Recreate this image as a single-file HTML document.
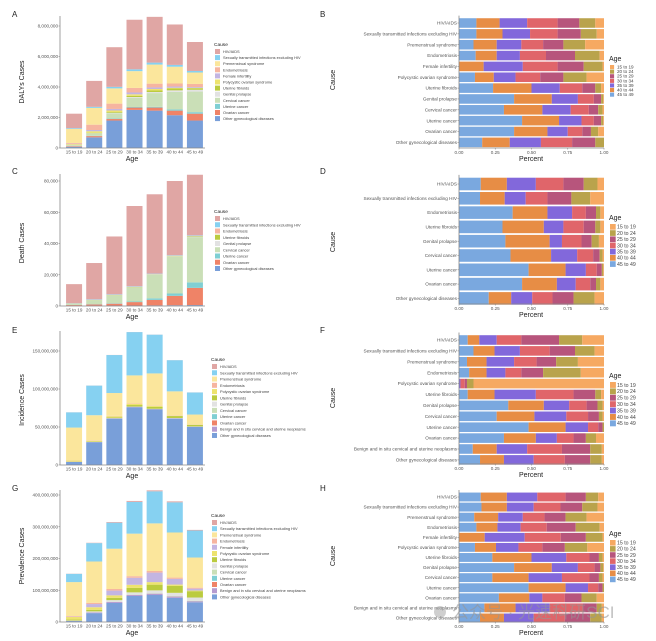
<!DOCTYPE html>
<html><head><meta charset="utf-8">
<style>
html,body{margin:0;padding:0;background:#fff;}
svg{display:block;font-family:"Liberation Sans","Noto Sans CJK SC",sans-serif;}
</style></head>
<body>
<svg id="fig" width="656" height="641" viewBox="0 0 656 641" xmlns="http://www.w3.org/2000/svg">
<rect x="0" y="0" width="656" height="641" fill="#fff"/>
<g font-size="8" fill="#222">
<text x="12" y="17">A</text>
<text x="320" y="17">B</text>
<text x="12" y="174">C</text>
<text x="320" y="174">D</text>
<text x="12" y="333">E</text>
<text x="320" y="333">F</text>
<text x="12" y="491">G</text>
<text x="320" y="491">H</text>
</g>
<g id="wm">
<circle cx="440" cy="612" r="6" fill="rgba(160,160,160,0.5)"/>
<text x="452" y="618" font-size="17" fill="rgba(150,150,150,0.6)" font-family="'Liberation Sans','Noto Sans CJK SC',sans-serif">公众号 · 光速科研SCI</text>
</g>
</svg>
<script>
const ages = ["15 to 19","20 to 24","25 to 29","30 to 34","35 to 39","40 to 44","45 to 49"];
const ageColors = {"15 to 19":"#F6A962","20 to 24":"#B9A34C","25 to 29":"#B7557C","30 to 34":"#E0656A","35 to 39":"#8268DB","40 to 44":"#E78D45","45 to 49":"#7AA8DF"};
const causeColors = {"HIV/AIDS":"#E0A6A4","Sexually transmitted infections excluding HIV":"#86D1F1","Premenstrual syndrome":"#FBE69C","Endometriosis":"#F6B5A0","Female infertility":"#C3B5E2","Polycystic ovarian syndrome":"#EDE36E","Uterine fibroids":"#BBCB3F","Genital prolapse":"#E2E2E2","Cervical cancer":"#CADFB7","Uterine cancer":"#7FCFD3","Ovarian cancer":"#EF8367","Benign and in situ cervical and uterine neoplasms":"#B59BD0","Other gynecological diseases":"#799FD9"};

// ---- Panel A (DALYs, millions), stacked bottom->top
const dalyCauses = ["Other gynecological diseases","Ovarian cancer","Uterine cancer","Cervical cancer","Genital prolapse","Uterine fibroids","Polycystic ovarian syndrome","Female infertility","Endometriosis","Premenstrual syndrome","Sexually transmitted infections excluding HIV","HIV/AIDS"];
const dalyValues = [
 [0.08,0.04,0.01,0.05,0.01,0.01,0.05,0.03,0.05,0.92,0.05,0.95],
 [0.70,0.08,0.02,0.15,0.02,0.03,0.10,0.08,0.35,1.10,0.07,1.70],
 [1.80,0.10,0.03,0.35,0.03,0.05,0.10,0.10,0.35,1.00,0.10,2.60],
 [2.50,0.15,0.04,0.60,0.05,0.08,0.10,0.12,0.30,1.10,0.12,3.25],
 [2.45,0.20,0.05,0.90,0.07,0.10,0.10,0.10,0.25,1.25,0.13,3.00],
 [2.15,0.30,0.08,1.15,0.10,0.12,0.05,0.08,0.20,1.10,0.12,2.65],
 [1.80,0.45,0.10,1.35,0.12,0.10,0.03,0.05,0.20,0.75,0.10,1.90]];
const dalyTicks = [0,2,4,6,8];
const dalyTickLabels = ["0","2,000,000","4,000,000","6,000,000","8,000,000"];

// ---- Panel C (Deaths, thousands)
const deathCauses = ["Other gynecological diseases","Ovarian cancer","Uterine cancer","Cervical cancer","Genital prolapse","Uterine fibroids","Endometriosis","Sexually transmitted infections excluding HIV","HIV/AIDS"];
const deathValues = [
 [0.1,0.5,0.1,0.8,0.0,0.05,0.05,0.2,12.2],
 [0.2,0.8,0.2,2.5,0.05,0.1,0.1,0.3,23.25],
 [0.3,1.2,0.3,5.0,0.1,0.15,0.1,0.3,37.05],
 [0.3,2.2,0.4,9.0,0.1,0.2,0.1,0.3,51.4],
 [0.4,3.5,1.0,15.0,0.2,0.2,0.1,0.3,50.8],
 [0.5,6.0,1.5,23.5,0.3,0.3,0.1,0.3,47.5],
 [0.6,11.0,3.5,29.0,0.4,0.3,0.1,0.3,38.8]];
const deathTicks = [0,20,40,60,80];
const deathTickLabels = ["0","20,000","40,000","60,000","80,000"];

// ---- Panel E (Incidence, millions)
const incCauses = ["Other gynecological diseases","Benign and in situ cervical and uterine neoplasms","Ovarian cancer","Uterine cancer","Cervical cancer","Genital prolapse","Uterine fibroids","Polycystic ovarian syndrome","Endometriosis","Premenstrual syndrome","Sexually transmitted infections excluding HIV","HIV/AIDS"];
const incValues = [
 [4,0.2,0.1,0,0.05,0,0.1,1.5,0.3,43,20,0.1],
 [30,0.3,0.1,0,0.1,0,0.5,1.0,0.5,33,39,0.1],
 [61,0.4,0.1,0,0.1,0.1,1.0,1.5,0.5,30,50,0.1],
 [76,0.5,0.1,0.1,0.1,0.1,2.0,1.5,0.5,37,57,0.1],
 [73,0.5,0.1,0.1,0.1,0.2,2.5,1.5,0.5,42,51,0.1],
 [61,0.4,0.1,0.1,0.1,0.2,2.5,0.5,0.5,31.5,41,0.1],
 [50,0.3,0.1,0.1,0.1,0.2,2.0,0.3,0.3,13,29,0.1]];
const incTicks = [0,50,100,150];
const incTickLabels = ["0","50,000,000","100,000,000","150,000,000"];

// ---- Panel G (Prevalence, millions)
const prevCauses = ["Other gynecological diseases","Benign and in situ cervical and uterine neoplasms","Ovarian cancer","Uterine cancer","Cervical cancer","Genital prolapse","Uterine fibroids","Polycystic ovarian syndrome","Female infertility","Endometriosis","Premenstrual syndrome","Sexually transmitted infections excluding HIV","HIV/AIDS"];
const prevValues = [
 [3,0.5,0.1,0,0.1,1,3,8,1,2,107,26,0.5],
 [28,2,0.1,0.1,0.3,3,5,8,10,4,130,58,1],
 [60,3,0.2,0.2,0.5,5,7,8,15,5,127,82,2],
 [82,3,0.3,0.3,0.7,7,14,10,22,5,134,100,3],
 [85,4,0.4,0.4,0.8,9,18,8,30,5,150,101,3],
 [76,4,0.5,0.5,0.9,10,22,4,18,4,142,95,3],
 [62,3,0.5,0.6,1.0,10,20,2,6,3,95,85,2]];
const prevTicks = [0,100,200,300,400];
const prevTickLabels = ["0","100,000,000","200,000,000","300,000,000","400,000,000"];

// ---- Percent panels: shares ordered 45-49,40-44,35-39,30-34,25-29,20-24,15-19
const segAges = ["45 to 49","40 to 44","35 to 39","30 to 34","25 to 29","20 to 24","15 to 19"];
const pctTicks = [0,0.25,0.5,0.75,1];
const pctTickLabels = ["0.00","0.25","0.50","0.75","1.00"];

const bRows = ["HIV/AIDS","Sexually transmitted infections excluding HIV","Premenstrual syndrome","Endometriosis","Female infertility","Polycystic ovarian syndrome","Uterine fibroids","Genital prolapse","Cervical cancer","Uterine cancer","Ovarian cancer","Other gynecological diseases"];
const bShares = [
 [.12,.16,.19,.21,.15,.11,.06],[.12,.18,.19,.19,.16,.11,.05],[.10,.16,.17,.15,.14,.15,.13],
 [.115,.145,.16,.18,.20,.17,.03],[0,.17,.27,.24,.18,.13,.01],[.11,.13,.15,.17,.16,.16,.12],
 [.235,.265,.195,.155,.09,.04,.02],[.38,.26,.18,.11,.05,.015,.005],[.31,.265,.195,.125,.065,.03,.01],
 [.435,.255,.155,.085,.05,.015,.005],[.38,.23,.14,.10,.06,.05,.04],[.16,.19,.215,.215,.16,.06,0]];

const dRows = ["HIV/AIDS","Sexually transmitted infections excluding HIV","Endometriosis","Uterine fibroids","Genital prolapse","Cervical cancer","Uterine cancer","Ovarian cancer","Other gynecological diseases"];
const dShares = [
 [.15,.18,.20,.19,.14,.095,.045],[.145,.17,.145,.15,.165,.13,.095],[.37,.24,.17,.095,.07,.03,.025],
 [.30,.285,.135,.14,.08,.035,.025],[.32,.305,.085,.135,.07,.05,.035],[.355,.28,.18,.11,.045,.02,.01],
 [.48,.255,.14,.075,.035,.01,.005],[.435,.24,.13,.10,.04,.03,.025],[.205,.155,.145,.14,.145,.145,.065]];

const fRows = ["HIV/AIDS","Sexually transmitted infections excluding HIV","Premenstrual syndrome","Endometriosis","Polycystic ovarian syndrome","Uterine fibroids","Genital prolapse","Cervical cancer","Uterine cancer","Ovarian cancer","Benign and in situ cervical and uterine neoplasms","Other gynecological diseases"];
const fShares = [
 [.06,.08,.12,.17,.26,.16,.15],[.10,.145,.175,.205,.175,.135,.065],[.055,.135,.19,.155,.135,.15,.18],
 [.07,.12,.13,.11,.15,.26,.16],[0,0,.01,.03,.015,.045,.90],[.06,.185,.285,.26,.15,.04,.02],
 [.34,.245,.175,.12,.075,.035,.01],[.26,.26,.22,.15,.075,.025,.01],[.48,.255,.155,.07,.03,.01,0],
 [.31,.22,.145,.115,.085,.07,.055],[.095,.165,.21,.24,.195,.08,.015],[.145,.165,.205,.215,.175,.08,.015]];

const hRows = ["HIV/AIDS","Sexually transmitted infections excluding HIV","Premenstrual syndrome","Endometriosis","Female infertility","Polycystic ovarian syndrome","Uterine fibroids","Genital prolapse","Cervical cancer","Uterine cancer","Ovarian cancer","Benign and in situ cervical and uterine neoplasms","Other gynecological diseases"];
const hShares = [
 [.15,.18,.21,.195,.14,.085,.04],[.155,.175,.185,.185,.15,.105,.045],[.105,.165,.17,.15,.145,.145,.12],
 [.12,.145,.16,.18,.20,.165,.03],[0,.177,.276,.249,.173,.115,.01],[.11,.145,.155,.165,.155,.155,.115],
 [.23,.27,.24,.16,.065,.025,.01],[.38,.26,.18,.115,.04,.02,.005],[.23,.25,.23,.19,.065,.025,.01],
 [.48,.255,.155,.07,.03,.01,0],[.275,.21,.09,.155,.115,.105,.05],[.175,.215,.235,.23,.095,.035,.015],
 [.145,.165,.205,.215,.175,.08,.015]];

const NS="http://www.w3.org/2000/svg";
const svg=document.getElementById('fig');
const wm=document.getElementById('wm');
function mk(tag,attrs,parent){const e=document.createElementNS(NS,tag);for(const k in attrs)e.setAttribute(k,attrs[k]);(parent||svg).insertBefore(e,parent?null:wm);return e;}
function txt(s,attrs,parent){const e=mk('text',attrs,parent);e.textContent=s;return e;}
function slug(s){return s.toLowerCase().replace(/[^a-z0-9]+/g,'-').replace(/^-|-$/g,'');}

function stackPanel(p){
  const g=mk('g',{});
  
  
  const x0=60,x1=205,step=(x1-x0-4)/7,bw=16;
  const xC=i=>x0+4+step*(i+0.5);
  const yS=v=>p.zeroY-v*p.ppu;
  p.values.forEach((row,i)=>{
    let acc=0;
    row.forEach((v,j)=>{
      const r=mk('rect',{x:(xC(i)-bw/2).toFixed(2),y:yS(acc+v).toFixed(2),width:bw,height:Math.max(0,v*p.ppu).toFixed(2),fill:causeColors[p.causes[j]]},g);
      
      
      acc+=v;
    });
  });
  const ya=mk('line',{x1:x0,y1:p.topY,x2:x0,y2:p.zeroY,stroke:'#888','stroke-width':0.8},g);
  
  
  const xa=mk('line',{x1:x0,y1:p.zeroY,x2:x1,y2:p.zeroY,stroke:'#888','stroke-width':0.8},g);
  
  
  p.ticks.forEach((t,k)=>{
    const y=yS(t);
    const tl=mk('line',{x1:x0-1.5,y1:y,x2:x0,y2:y,stroke:'#888','stroke-width':0.6},g);
    
    
    const tt=txt(p.tickLabels[k],{x:x0-2,y:y+1.6,'font-size':4.6,fill:'#555','text-anchor':'end'},g);
    
    
  });
  ages.forEach((a,i)=>{
    const t=txt(a,{x:xC(i),y:p.zeroY+5.5,'font-size':4.6,fill:'#555','text-anchor':'middle'},g);
    
    
  });
  const xt=txt('Age',{x:132,y:p.zeroY+13,'font-size':7,fill:'#222','text-anchor':'middle'},g);
  
  
  const yt=txt(p.ytitle,{x:0,y:0,'font-size':7,fill:'#222','text-anchor':'middle',transform:`translate(24,${p.ytY}) rotate(-90)`},g);
  
  
  const lg=mk('g',{},g);
  
  
  const lt=txt('Cause',{x:p.lx,y:p.ly,'font-size':4.8,fill:'#222'},lg);
  
  
  const order=p.causes.slice().reverse();
  order.forEach((c,k)=>{
    const y=p.ly+3+k*p.lstep;
    const sw=mk('rect',{x:p.lx+1,y:y,width:5,height:5,fill:causeColors[c]},lg);
    
    
    const st=txt(c,{x:p.lx+9,y:y+4,'font-size':3.9,fill:'#444'},lg);
    
    
  });
}

function pctPanel(p){
  const g=mk('g',{});
  
  
  const x0=459,x1=604;
  const xS=v=>x0+v*(x1-x0);
  const bh=p.step*0.88;
  p.rows.forEach((rname,i)=>{
    const cy=p.firstY+i*p.step;
    const row=p.shares[i];
    const tot=row.reduce((a,b)=>a+b,0);
    let acc=0;
    row.forEach((v,j)=>{
      const r=mk('rect',{x:xS(acc/tot).toFixed(2),y:(cy-bh/2).toFixed(2),width:(v/tot*(x1-x0)).toFixed(2),height:bh.toFixed(2),fill:ageColors[segAges[j]]},g);
      
      
      acc+=v;
    });
    const tl=mk('line',{x1:x0-1.5,y1:cy,x2:x0,y2:cy,stroke:'#888','stroke-width':0.6},g);
    
    
    const t=txt(rname,{x:x0-2,y:cy+1.6,'font-size':4.7,fill:'#555','text-anchor':'end'},g);
    
    
  });
  const top=p.firstY-p.step/2-2;
  const ya=mk('line',{x1:x0,y1:top,x2:x0,y2:p.axisY,stroke:'#888','stroke-width':0.8},g);
  
  
  const xa=mk('line',{x1:x0,y1:p.axisY,x2:x1,y2:p.axisY,stroke:'#888','stroke-width':0.8},g);
  
  
  pctTicks.forEach((t,k)=>{
    const x=xS(t);
    const tk=mk('line',{x1:x,y1:p.axisY,x2:x,y2:p.axisY+1.5,stroke:'#888','stroke-width':0.6},g);
    
    
    const tt=txt(pctTickLabels[k],{x:x,y:p.axisY+6,'font-size':4.6,fill:'#555','text-anchor':'middle'},g);
    
    
  });
  const xt=txt('Percent',{x:531,y:p.axisY+13,'font-size':7,fill:'#222','text-anchor':'middle'},g);
  
  
  const yt=txt('Cause',{x:0,y:0,'font-size':7,fill:'#222','text-anchor':'middle',transform:`translate(335,${p.ytY}) rotate(-90)`},g);
  
  
  const lg=mk('g',{},g);
  
  
  const lt=txt('Age',{x:609,y:p.ly,'font-size':7,fill:'#222'},lg);
  
  
  ages.forEach((a,k)=>{
    const y=p.ly+4+k*p.lstep;
    const sw=mk('rect',{x:610,y:y,width:p.lstep-0.5,height:p.lstep-0.5,fill:ageColors[a]},lg);
    
    
    const st=txt(a,{x:617,y:y+p.lstep*0.75,'font-size':Math.min(5.2,p.lstep),fill:'#444'},lg);
    
    
  });
}

stackPanel({name:'panel-a-dalys-chart',causes:dalyCauses,values:dalyValues,ticks:dalyTicks,tickLabels:dalyTickLabels,zeroY:148,ppu:15.25,topY:16,ytitle:'DALYs Cases',ytY:82,lx:214,ly:46,lstep:6.1});
stackPanel({name:'panel-c-deaths-chart',causes:deathCauses,values:deathValues,ticks:deathTicks,tickLabels:deathTickLabels,zeroY:306,ppu:1.5625,topY:174,ytitle:'Death Cases',ytY:243,lx:214,ly:213,lstep:6.25});
stackPanel({name:'panel-e-incidence-chart',causes:incCauses,values:incValues,ticks:incTicks,tickLabels:incTickLabels,zeroY:465,ppu:0.76,topY:331,ytitle:'Incidence Cases',ytY:400,lx:211,ly:361,lstep:6.27});
stackPanel({name:'panel-g-prevalence-chart',causes:prevCauses,values:prevValues,ticks:prevTicks,tickLabels:prevTickLabels,zeroY:622,ppu:0.3175,topY:490,ytitle:'Prevalence Cases',ytY:556,lx:211,ly:517,lstep:6.2});

pctPanel({name:'panel-b-dalys-percent-chart',rows:bRows,shares:bShares,firstY:23,step:10.85,axisY:148,ytY:80,ly:61,lstep:4.6});
pctPanel({name:'panel-d-deaths-percent-chart',rows:dRows,shares:dShares,firstY:184,step:14.3,axisY:304,ytY:242,ly:220,lstep:6.2});
pctPanel({name:'panel-f-incidence-percent-chart',rows:fRows,shares:fShares,firstY:340,step:10.9,axisY:464,ytY:398,ly:378,lstep:6.4});
pctPanel({name:'panel-h-prevalence-percent-chart',rows:hRows,shares:hShares,firstY:497,step:10.08,axisY:622,ytY:556,ly:536,lstep:6.1});
</script>
</body></html>
